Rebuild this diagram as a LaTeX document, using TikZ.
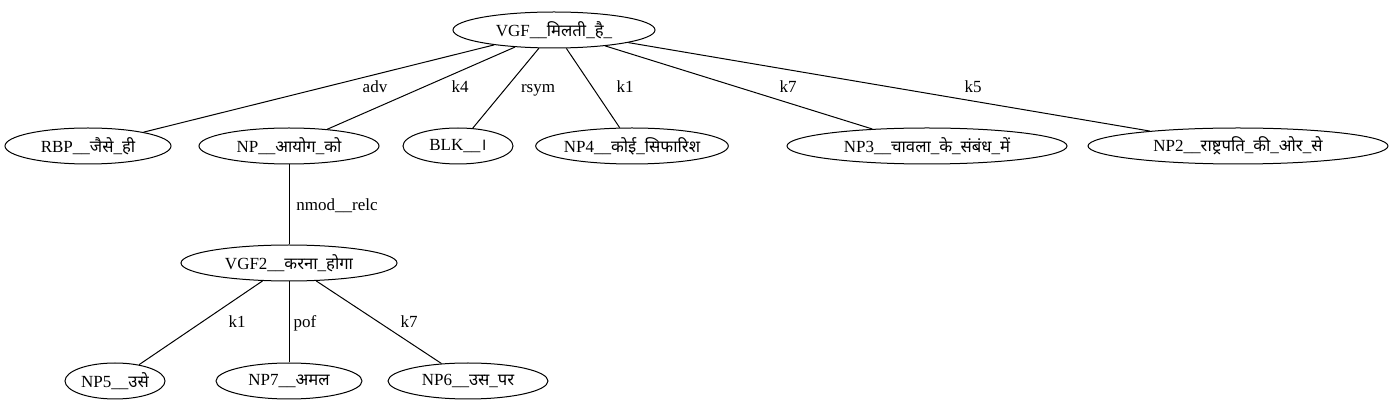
\documentclass[tikz,border=0pt]{standalone}
\usepackage{fontspec}
\setmainfont{Liberation Serif}
\newfontfamily\devfont[Script=Devanagari,Scale=0.98]{Noto Sans}
\newcommand{\dv}[1]{{\devfont #1}}
\usetikzlibrary{shapes.geometric}

\tikzset{
  tok/.style={draw, line width=1pt, ellipse, inner sep=0pt, minimum height=36pt,
    font=\fontsize{17}{20}\selectfont},
  rel/.style={inner sep=0pt, anchor=base, font=\fontsize{17}{20}\selectfont},
  dep/.style={line width=1pt},
}

\begin{document}
\begin{tikzpicture}[x=1pt, y=-1pt]
  \useasboundingbox (0,0) rectangle (1393,411);

  % root
  \node[tok, minimum width=202pt] (vgf) at (554,30) {VGF\_\_\dv{मिलती}\_\dv{है}\_};

  % first row
  \node[tok, minimum width=166pt] (rbp) at (88,146) {RBP\_\_\dv{जैसे}\_\dv{ही}};
  \node[tok, minimum width=180pt] (np) at (289,146) {NP\_\_\dv{आयोग}\_\dv{को}};
  \node[tok, minimum width=110pt] (blk) at (458,146) {BLK\_\_\dv{।}};
  \node[tok, minimum width=190pt] (np4) at (632,146) {NP4\_\_\dv{कोई}\_\dv{सिफारिश}};
  \node[tok, minimum width=280pt] (np3) at (927,146) {NP3\_\_\dv{चावला}\_\dv{के}\_\dv{संबंध}\_\dv{में}};
  \node[tok, minimum width=300pt] (np2) at (1238,146) {NP2\_\_\dv{राष्ट्रपति}\_\dv{की}\_\dv{ओर}\_\dv{से}};

  % relative clause
  \node[tok, minimum width=216pt] (vgf2) at (289,263) {VGF2\_\_\dv{करना}\_\dv{होगा}};
  \node[tok, minimum width=100pt] (np5) at (115,381) {NP5\_\_\dv{उसे}};
  \node[tok, minimum width=146pt] (np7) at (289,381) {NP7\_\_\dv{अमल}};
  \node[tok, minimum width=160pt] (np6) at (468,381) {NP6\_\_\dv{उस}\_\dv{पर}};

  \draw[dep] (vgf) -- (rbp);
  \draw[dep] (vgf) -- (np);
  \draw[dep] (vgf) -- (blk);
  \draw[dep] (vgf) -- (np4);
  \draw[dep] (vgf) -- (np3);
  \draw[dep] (vgf) -- (np2);
  \draw[dep] (np) -- (vgf2);
  \draw[dep] (vgf2) -- (np5);
  \draw[dep] (vgf2) -- (np7);
  \draw[dep] (vgf2) -- (np6);

  \node[rel] (l-adv) at (375,93) {adv};
  \node[rel] (l-k4) at (460,93) {k4};
  \node[rel] (l-rsym) at (538,93) {rsym};
  \node[rel] (l-k1) at (625,93) {k1};
  \node[rel] (l-k7) at (788,93) {k7};
  \node[rel] (l-k5) at (973,93) {k5};
  \node[rel] (l-nmod) at (337,211) {nmod\_\_relc};
  \node[rel] (l-k1b) at (237,328) {k1};
  \node[rel] (l-pof) at (305,328) {pof};
  \node[rel] (l-k7b) at (409,328) {k7};
\end{tikzpicture}
\end{document}
